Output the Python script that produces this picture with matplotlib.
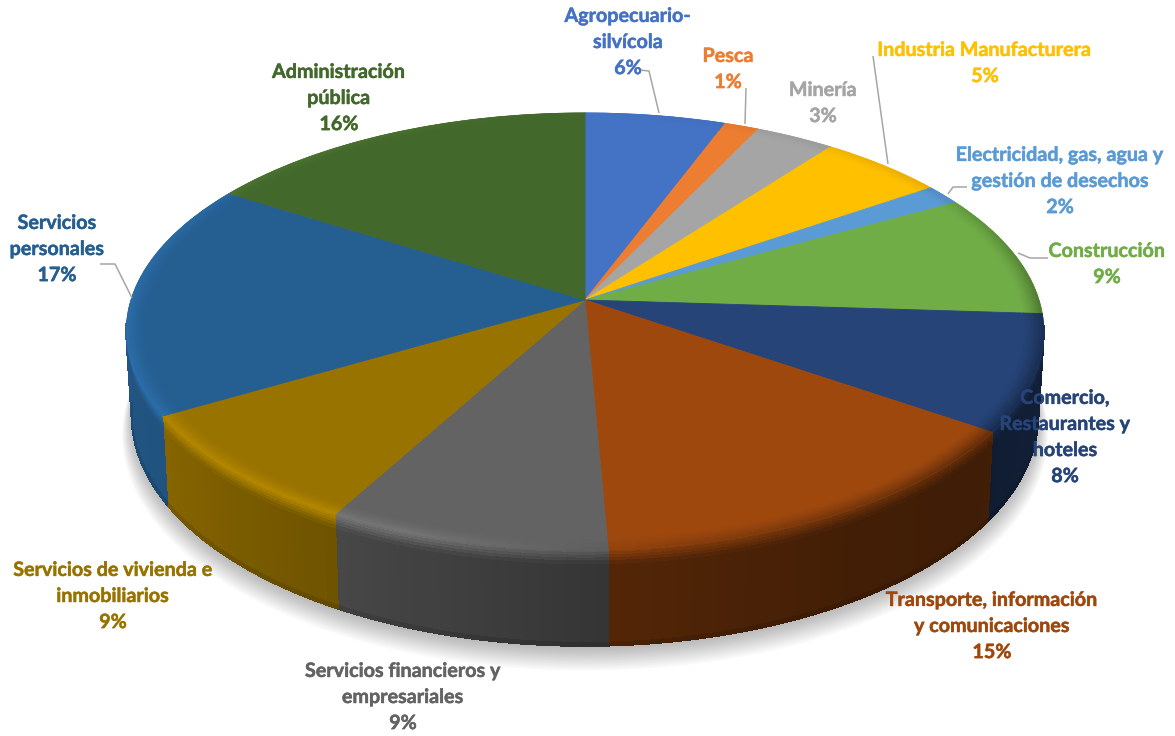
import numpy as np
import matplotlib
matplotlib.use('Agg')
from matplotlib import pyplot as plt
from matplotlib import transforms as mtransforms
from matplotlib import patheffects
from matplotlib.collections import PolyCollection
from matplotlib.colors import to_rgb

# chart data
sectors = ['Agropecuario-\nsilvícola', 'Pesca', 'Minería', 'Industria Manufacturera',
           'Electricidad, gas, agua y\ngestión de desechos', 'Construcción',
           'Comercio,\nRestaurantes y\nhoteles', 'Transporte, información\ny comunicaciones',
           'Servicios financieros y\nempresariales', 'Servicios de vivienda e\ninmobiliarios',
           'Servicios\npersonales', 'Administración\npública']
# printed percentages and slice sizes
percent_labels = ['6%', '1%', '3%', '5%', '2%', '9%', '8%', '15%', '9%', '9%', '17%', '16%']
shares = [5.7, 1.4, 3.2, 5.1, 1.5, 9.1, 8.6, 14.7, 8.7, 8.6, 17.4, 16.0]
colors = ['#4472C4', '#ED7D31', '#A5A5A5', '#FFC000', '#5B9BD5', '#70AD47',
          '#264478', '#9E480E', '#636363', '#997300', '#255E91', '#43682B']

# label centres in pixels
label_x = [628, 728, 823, 985, 1060, 1107, 1065, 992, 403, 113, 57, 339]
label_y = [42, 69, 103, 63, 181, 264, 437, 626, 697, 596, 249, 98]

# leader lines in pixels
leaders = [([640, 649, 659], [70, 71, 113]),
           ([746, 745], [88, 124]),
           ([873, 888], [56, 164]),
           ([967, 953, 948], [187, 187, 194]),
           ([1048, 1030, 1018], [258, 258, 253]),
           ([100, 115, 132], [264, 264, 298])]

# pie geometry in pixels
cx, cy = 585, 300
persp = 0.144
rx, ry = 454, 214
depth = 82


class Tilt(mtransforms.Transform):
    # perspective view of the unit circle of the pie
    input_dims = 2
    output_dims = 2
    is_separable = False
    has_inverse = False

    def transform_non_affine(self, values):
        values = np.asarray(values, dtype=float)
        w = 1 + persp * values[:, 1]
        return np.column_stack([cx + rx * values[:, 0] / w, cy - ry * values[:, 1] / w])


def project(theta, r=1.0, z=0.0):
    # theta in degrees, clockwise from the top, z from 0 (top face) to 1 (bottom)
    t = np.radians(theta)
    x, y = r * np.sin(t), r * np.cos(t)
    w = 1 + persp * y
    px = cx + (rx * x / w) * (1 - 0.012 * z)
    py = cy - ry * y / w + depth * z / w
    return px, py


def wall_factor(theta):
    return np.interp(theta, [0, 90, 110, 130, 150, 176, 208, 240, 300, 360],
                     [.9, .5, .45, .4, .42, .52, .72, .88, .95, .95])


def rim_factor(theta):
    return np.interp(theta, [0, 60, 90, 130, 170, 200, 270, 330, 360],
                     [1, .9, .7, .62, .85, 1.2, 1.16, 1.08, 1])


fig = plt.figure(figsize=(11.75, 7.36), dpi=100)
ax = fig.add_axes([0, 0, 1, 1])

# soft shadow under the pie
full = np.linspace(0, 360, 241)
for s in range(14):
    sx, sy = project(full, r=1.0 + 0.0016 * s, z=1.0)
    ax.fill(sx, sy + 3 + 1.2 * s, color='black', alpha=0.018, lw=0, zorder=1)

# top face
wedges, _ = ax.pie(shares, colors=colors, startangle=90, counterclock=False, radius=1,
                   normalize=True, wedgeprops={'linewidth': 0.6, 'zorder': 3})
for wedge, color in zip(wedges, colors):
    wedge.set_edgecolor(color)
    wedge.set_transform(Tilt() + ax.transData)

ax.set_aspect('auto')
ax.set_xlim(0, 1175)
ax.set_ylim(736, 0)

# side wall and rounded rim, slice by slice
edges = np.concatenate([[0], np.cumsum(shares)]) * 3.6
rim_rows = np.linspace(0.955, 1.0, 10)
wall_rows = np.array([0, .03, .06, .09, .12, .16, .2, .5, .97, .99, 1.0])
for start, stop, color in zip(edges[:-1], edges[1:], colors):
    base = np.array(to_rgb(color))
    thetas = np.linspace(start, stop, max(3, int((stop - start) / 1.5) + 1))
    wall_polys, wall_faces, rim_polys, rim_faces = [], [], [], []
    for a, b in zip(thetas[:-1], thetas[1:]):
        mid = (a + b) / 2
        peak, wall = rim_factor(mid), wall_factor(mid)
        # bevel on the top face
        for r0, r1 in zip(rim_rows[:-1], rim_rows[1:]):
            f = ((r0 + r1) / 2 - 0.955) / 0.045
            px0, py0 = project(np.array([a, b]), r=r0)
            px1, py1 = project(np.array([b, a]), r=r1)
            rim_polys.append(np.column_stack([np.r_[px0, px1], np.r_[py0, py1]]))
            rim_faces.append(np.clip(base * (1 + (peak - 1) * f ** 1.5), 0, 1))
        # wall below the edge, only where it faces the viewer
        if mid < 96 or mid > 264:
            continue
        for z0, z1 in zip(wall_rows[:-1], wall_rows[1:]):
            zm = (z0 + z1) / 2
            if zm < 0.2:
                f = peak + (wall - peak) * min(zm / 0.16, 1)
            elif zm > 0.97:
                f = wall * 0.88
            else:
                f = wall
            px0, py0 = project(np.array([a, b]), z=z0)
            px1, py1 = project(np.array([b, a]), z=z1)
            wall_polys.append(np.column_stack([np.r_[px0, px1], np.r_[py0, py1]]))
            wall_faces.append(np.clip(base * f, 0, 1))
    if wall_polys:
        ax.add_collection(PolyCollection(wall_polys, facecolors=wall_faces, edgecolors=wall_faces,
                                         linewidths=0.8, antialiaseds=False, zorder=2))
    ax.add_collection(PolyCollection(rim_polys, facecolors=rim_faces, edgecolors=rim_faces,
                                     linewidths=0.5, zorder=4))

# leader lines
for xs, ys in leaders:
    ax.plot(xs, ys, color='#A6A6A6', lw=1.1, zorder=5, solid_capstyle='butt')

# labels
for name, percent, color, x, y in zip(sectors, percent_labels, colors, label_x, label_y):
    txt = ax.text(x, y, f'{name}\n{percent}', color=color, family='Lato', weight='bold',
                  fontsize=14.2, ha='center', va='center', ma='center', linespacing=1.38, zorder=6)
    txt.set_path_effects([patheffects.withStroke(linewidth=0.35, foreground=color)])

fig.savefig('out.png', dpi=100)
